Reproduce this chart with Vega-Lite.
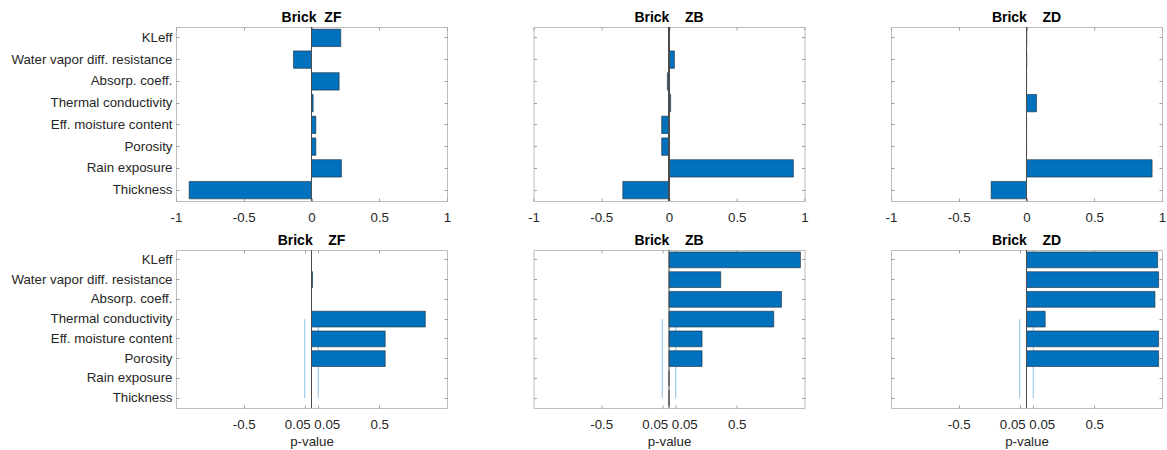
{
  "$schema": "https://vega.github.io/schema/vega-lite/v6.json",
  "padding": {"left": 10, "top": 10, "right": 2, "bottom": 2},
  "background": "white",
  "datasets": {
    "corr": [
      {"brick": "ZF", "param": "KLeff", "r": 0.216},
      {"brick": "ZF", "param": "Water vapor diff. resistance", "r": -0.133},
      {"brick": "ZF", "param": "Absorp. coeff.", "r": 0.204},
      {"brick": "ZF", "param": "Thermal conductivity", "r": 0.012},
      {"brick": "ZF", "param": "Eff. moisture content", "r": 0.032},
      {"brick": "ZF", "param": "Porosity", "r": 0.032},
      {"brick": "ZF", "param": "Rain exposure", "r": 0.221},
      {"brick": "ZF", "param": "Thickness", "r": -0.903},
      {"brick": "ZB", "param": "KLeff", "r": 0.002},
      {"brick": "ZB", "param": "Water vapor diff. resistance", "r": 0.04},
      {"brick": "ZB", "param": "Absorp. coeff.", "r": -0.012},
      {"brick": "ZB", "param": "Thermal conductivity", "r": 0.012},
      {"brick": "ZB", "param": "Eff. moisture content", "r": -0.054},
      {"brick": "ZB", "param": "Porosity", "r": -0.054},
      {"brick": "ZB", "param": "Rain exposure", "r": 0.918},
      {"brick": "ZB", "param": "Thickness", "r": -0.341},
      {"brick": "ZD", "param": "KLeff", "r": 0.002},
      {"brick": "ZD", "param": "Water vapor diff. resistance", "r": 0.002},
      {"brick": "ZD", "param": "Absorp. coeff.", "r": 0.001},
      {"brick": "ZD", "param": "Thermal conductivity", "r": 0.074},
      {"brick": "ZD", "param": "Eff. moisture content", "r": 0.001},
      {"brick": "ZD", "param": "Porosity", "r": 0.001},
      {"brick": "ZD", "param": "Rain exposure", "r": 0.927},
      {"brick": "ZD", "param": "Thickness", "r": -0.261}
    ],
    "pval": [
      {"brick": "ZF", "param": "KLeff", "p": 0},
      {"brick": "ZF", "param": "Water vapor diff. resistance", "p": 0.008},
      {"brick": "ZF", "param": "Absorp. coeff.", "p": 0},
      {"brick": "ZF", "param": "Thermal conductivity", "p": 0.84},
      {"brick": "ZF", "param": "Eff. moisture content", "p": 0.544},
      {"brick": "ZF", "param": "Porosity", "p": 0.544},
      {"brick": "ZF", "param": "Rain exposure", "p": 0},
      {"brick": "ZF", "param": "Thickness", "p": 0},
      {"brick": "ZB", "param": "KLeff", "p": 0.97},
      {"brick": "ZB", "param": "Water vapor diff. resistance", "p": 0.382},
      {"brick": "ZB", "param": "Absorp. coeff.", "p": 0.83},
      {"brick": "ZB", "param": "Thermal conductivity", "p": 0.773},
      {"brick": "ZB", "param": "Eff. moisture content", "p": 0.244},
      {"brick": "ZB", "param": "Porosity", "p": 0.244},
      {"brick": "ZB", "param": "Rain exposure", "p": 0},
      {"brick": "ZB", "param": "Thickness", "p": 0},
      {"brick": "ZD", "param": "KLeff", "p": 0.968},
      {"brick": "ZD", "param": "Water vapor diff. resistance", "p": 0.975},
      {"brick": "ZD", "param": "Absorp. coeff.", "p": 0.948},
      {"brick": "ZD", "param": "Thermal conductivity", "p": 0.138},
      {"brick": "ZD", "param": "Eff. moisture content", "p": 0.975},
      {"brick": "ZD", "param": "Porosity", "p": 0.975},
      {"brick": "ZD", "param": "Rain exposure", "p": 0},
      {"brick": "ZD", "param": "Thickness", "p": 0}
    ],
    "sig": [
      {"lim": -0.05, "from": "Thermal conductivity", "to": "Thickness"},
      {"lim": 0.05, "from": "Thermal conductivity", "to": "Thickness"}
    ]
  },
  "vconcat": [
    {
      "bounds": "flush",
      "spacing": 86.5,
      "hconcat": [
        {
          "width": 271, "height": 174,
          "title": "Brick\u00a0\u00a0ZF",
          "data": {"name": "corr"},
          "transform": [{"filter": "datum.brick == 'ZF'"}],
          "layer": [
            {
              "mark": {"type": "bar", "color": "#0072BD", "stroke": "#1f2a36", "strokeWidth": 0.6},
              "encoding": {
                "y": {"field": "param", "type": "nominal", "scale": {"domain": ["KLeff", "Water vapor diff. resistance", "Absorp. coeff.", "Thermal conductivity", "Eff. moisture content", "Porosity", "Rain exposure", "Thickness"], "paddingInner": 0.2, "paddingOuter": 0.1}, "axis": {"title": null, "orient": "left"}},
                "x": {"field": "r", "type": "quantitative", "scale": {"domain": [-1, 1], "nice": false}, "axis": {"title": null, "orient": "bottom", "values": [-1, -0.5, 0, 0.5, 1], "labelExpr": "'' + datum.value"}}
              }
            },
            {
              "mark": {"type": "point", "opacity": 0},
              "encoding": {
                "y": {"field": "param", "type": "nominal", "axis": {"title": null, "orient": "right", "labels": false, "minExtent": 0}},
                "x": {"field": "r", "type": "quantitative", "axis": {"title": null, "orient": "top", "labels": false, "minExtent": 0, "values": [-1, -0.5, 0, 0.5, 1]}}
              }
            },
            {
              "mark": {"type": "rule", "color": "#4d4d4d", "strokeWidth": 1},
              "encoding": {"x": {"datum": 0, "type": "quantitative", "axis": null}}
            }
          ]
        },
        {
          "width": 271, "height": 174,
          "title": "Brick\u00a0\u00a0\u00a0\u00a0ZB",
          "data": {"name": "corr"},
          "transform": [{"filter": "datum.brick == 'ZB'"}],
          "layer": [
            {
              "mark": {"type": "bar", "color": "#0072BD", "stroke": "#1f2a36", "strokeWidth": 0.6},
              "encoding": {
                "y": {"field": "param", "type": "nominal", "scale": {"domain": ["KLeff", "Water vapor diff. resistance", "Absorp. coeff.", "Thermal conductivity", "Eff. moisture content", "Porosity", "Rain exposure", "Thickness"], "paddingInner": 0.2, "paddingOuter": 0.1}, "axis": {"title": null, "orient": "left", "labels": false, "minExtent": 0}},
                "x": {"field": "r", "type": "quantitative", "scale": {"domain": [-1, 1], "nice": false}, "axis": {"title": null, "orient": "bottom", "values": [-1, -0.5, 0, 0.5, 1], "labelExpr": "'' + datum.value"}}
              }
            },
            {
              "mark": {"type": "point", "opacity": 0},
              "encoding": {
                "y": {"field": "param", "type": "nominal", "axis": {"title": null, "orient": "right", "labels": false, "minExtent": 0}},
                "x": {"field": "r", "type": "quantitative", "axis": {"title": null, "orient": "top", "labels": false, "minExtent": 0, "values": [-1, -0.5, 0, 0.5, 1]}}
              }
            },
            {
              "mark": {"type": "rule", "color": "#4d4d4d", "strokeWidth": 1},
              "encoding": {"x": {"datum": 0, "type": "quantitative", "axis": null}}
            }
          ]
        },
        {
          "width": 271, "height": 174,
          "title": "Brick\u00a0\u00a0\u00a0\u00a0ZD",
          "data": {"name": "corr"},
          "transform": [{"filter": "datum.brick == 'ZD'"}],
          "layer": [
            {
              "mark": {"type": "bar", "color": "#0072BD", "stroke": "#1f2a36", "strokeWidth": 0.6},
              "encoding": {
                "y": {"field": "param", "type": "nominal", "scale": {"domain": ["KLeff", "Water vapor diff. resistance", "Absorp. coeff.", "Thermal conductivity", "Eff. moisture content", "Porosity", "Rain exposure", "Thickness"], "paddingInner": 0.2, "paddingOuter": 0.1}, "axis": {"title": null, "orient": "left", "labels": false, "minExtent": 0}},
                "x": {"field": "r", "type": "quantitative", "scale": {"domain": [-1, 1], "nice": false}, "axis": {"title": null, "orient": "bottom", "values": [-1, -0.5, 0, 0.5, 1], "labelExpr": "'' + datum.value"}}
              }
            },
            {
              "mark": {"type": "point", "opacity": 0},
              "encoding": {
                "y": {"field": "param", "type": "nominal", "axis": {"title": null, "orient": "right", "labels": false, "minExtent": 0}},
                "x": {"field": "r", "type": "quantitative", "axis": {"title": null, "orient": "top", "labels": false, "minExtent": 0, "values": [-1, -0.5, 0, 0.5, 1]}}
              }
            },
            {
              "mark": {"type": "rule", "color": "#4d4d4d", "strokeWidth": 1},
              "encoding": {"x": {"datum": 0, "type": "quantitative", "axis": null}}
            }
          ]
        }
      ]
    },
    {
      "bounds": "flush",
      "spacing": 86.5,
      "hconcat": [
        {
          "width": 271, "height": 158,
          "title": "Brick\u00a0\u00a0\u00a0\u00a0ZF",
          "layer": [
            {
              "data": {"name": "sig"},
              "mark": {"type": "rule", "color": "#8cc4ec", "strokeWidth": 1},
              "encoding": {
                "x": {"field": "lim", "type": "quantitative", "axis": null},
                "y": {"field": "from", "type": "nominal", "bandPosition": 0.5, "axis": null},
                "y2": {"field": "to", "bandPosition": 0.5}
              }
            },
            {
              "data": {"name": "pval"},
              "transform": [{"filter": "datum.brick == 'ZF'"}],
              "mark": {"type": "bar", "color": "#0072BD", "stroke": "#1f2a36", "strokeWidth": 0.6},
              "encoding": {
                "y": {"field": "param", "type": "nominal", "scale": {"domain": ["KLeff", "Water vapor diff. resistance", "Absorp. coeff.", "Thermal conductivity", "Eff. moisture content", "Porosity", "Rain exposure", "Thickness"], "paddingInner": 0.2, "paddingOuter": 0.1}, "axis": {"title": null, "orient": "left"}},
                "x": {"field": "p", "type": "quantitative", "scale": {"domain": [-1, 1], "nice": false}, "axis": {"title": "p-value", "orient": "bottom", "values": [-0.5, -0.05, 0.05, 0.5], "labelExpr": "abs(datum.value) == 0.05 ? '0.05' : '' + datum.value", "labelOffset": {"expr": "datum.value == -0.05 ? -7.5 : datum.value == 0.05 ? 8.5 : 0"}}}
              }
            },
            {
              "data": {"name": "pval"},
              "transform": [{"filter": "datum.brick == 'ZF'"}],
              "mark": {"type": "point", "opacity": 0},
              "encoding": {
                "y": {"field": "param", "type": "nominal", "axis": {"title": null, "orient": "right", "labels": false, "minExtent": 0}},
                "x": {"field": "p", "type": "quantitative", "axis": {"title": null, "orient": "top", "labels": false, "minExtent": 0, "values": [-0.5, -0.05, 0.05, 0.5]}}
              }
            },
            {
              "data": {"values": [{}]},
              "mark": {"type": "rule", "color": "#4d4d4d", "strokeWidth": 1},
              "encoding": {"x": {"datum": 0, "type": "quantitative", "axis": null}}
            }
          ]
        },
        {
          "width": 271, "height": 158,
          "title": "Brick\u00a0\u00a0\u00a0\u00a0ZB",
          "layer": [
            {
              "data": {"name": "sig"},
              "mark": {"type": "rule", "color": "#8cc4ec", "strokeWidth": 1},
              "encoding": {
                "x": {"field": "lim", "type": "quantitative", "axis": null},
                "y": {"field": "from", "type": "nominal", "bandPosition": 0.5, "axis": null},
                "y2": {"field": "to", "bandPosition": 0.5}
              }
            },
            {
              "data": {"name": "pval"},
              "transform": [{"filter": "datum.brick == 'ZB'"}],
              "mark": {"type": "bar", "color": "#0072BD", "stroke": "#1f2a36", "strokeWidth": 0.6},
              "encoding": {
                "y": {"field": "param", "type": "nominal", "scale": {"domain": ["KLeff", "Water vapor diff. resistance", "Absorp. coeff.", "Thermal conductivity", "Eff. moisture content", "Porosity", "Rain exposure", "Thickness"], "paddingInner": 0.2, "paddingOuter": 0.1}, "axis": {"title": null, "orient": "left", "labels": false, "minExtent": 0}},
                "x": {"field": "p", "type": "quantitative", "scale": {"domain": [-1, 1], "nice": false}, "axis": {"title": "p-value", "orient": "bottom", "values": [-0.5, -0.05, 0.05, 0.5], "labelExpr": "abs(datum.value) == 0.05 ? '0.05' : '' + datum.value", "labelOffset": {"expr": "datum.value == -0.05 ? -7.5 : datum.value == 0.05 ? 8.5 : 0"}}}
              }
            },
            {
              "data": {"name": "pval"},
              "transform": [{"filter": "datum.brick == 'ZB'"}],
              "mark": {"type": "point", "opacity": 0},
              "encoding": {
                "y": {"field": "param", "type": "nominal", "axis": {"title": null, "orient": "right", "labels": false, "minExtent": 0}},
                "x": {"field": "p", "type": "quantitative", "axis": {"title": null, "orient": "top", "labels": false, "minExtent": 0, "values": [-0.5, -0.05, 0.05, 0.5]}}
              }
            },
            {
              "data": {"values": [{}]},
              "mark": {"type": "rule", "color": "#4d4d4d", "strokeWidth": 1},
              "encoding": {"x": {"datum": 0, "type": "quantitative", "axis": null}}
            }
          ]
        },
        {
          "width": 271, "height": 158,
          "title": "Brick\u00a0\u00a0\u00a0\u00a0ZD",
          "layer": [
            {
              "data": {"name": "sig"},
              "mark": {"type": "rule", "color": "#8cc4ec", "strokeWidth": 1},
              "encoding": {
                "x": {"field": "lim", "type": "quantitative", "axis": null},
                "y": {"field": "from", "type": "nominal", "bandPosition": 0.5, "axis": null},
                "y2": {"field": "to", "bandPosition": 0.5}
              }
            },
            {
              "data": {"name": "pval"},
              "transform": [{"filter": "datum.brick == 'ZD'"}],
              "mark": {"type": "bar", "color": "#0072BD", "stroke": "#1f2a36", "strokeWidth": 0.6},
              "encoding": {
                "y": {"field": "param", "type": "nominal", "scale": {"domain": ["KLeff", "Water vapor diff. resistance", "Absorp. coeff.", "Thermal conductivity", "Eff. moisture content", "Porosity", "Rain exposure", "Thickness"], "paddingInner": 0.2, "paddingOuter": 0.1}, "axis": {"title": null, "orient": "left", "labels": false, "minExtent": 0}},
                "x": {"field": "p", "type": "quantitative", "scale": {"domain": [-1, 1], "nice": false}, "axis": {"title": "p-value", "orient": "bottom", "values": [-0.5, -0.05, 0.05, 0.5], "labelExpr": "abs(datum.value) == 0.05 ? '0.05' : '' + datum.value", "labelOffset": {"expr": "datum.value == -0.05 ? -7.5 : datum.value == 0.05 ? 8.5 : 0"}}}
              }
            },
            {
              "data": {"name": "pval"},
              "transform": [{"filter": "datum.brick == 'ZD'"}],
              "mark": {"type": "point", "opacity": 0},
              "encoding": {
                "y": {"field": "param", "type": "nominal", "axis": {"title": null, "orient": "right", "labels": false, "minExtent": 0}},
                "x": {"field": "p", "type": "quantitative", "axis": {"title": null, "orient": "top", "labels": false, "minExtent": 0, "values": [-0.5, -0.05, 0.05, 0.5]}}
              }
            },
            {
              "data": {"values": [{}]},
              "mark": {"type": "rule", "color": "#4d4d4d", "strokeWidth": 1},
              "encoding": {"x": {"datum": 0, "type": "quantitative", "axis": null}}
            }
          ]
        }
      ]
    }
  ],
  "spacing": 9,
  "config": {
    "font": "Liberation Sans",
    "view": {"stroke": "#bcbcbc", "strokeWidth": 1},
    "axis": {
      "domain": false,
      "grid": false,
      "labelFont": "Liberation Sans",
      "labelFontSize": 13.3,
      "labelColor": "#262626",
      "labelOverlap": false,
      "labelBound": false,
      "labelFlush": false,
      "tickColor": "#a0a0a0",
      "tickSize": -3,
      "labelPadding": 12,
      "titleFont": "Liberation Sans",
      "titleFontSize": 13.3,
      "titleFontWeight": "normal",
      "titleColor": "#262626",
      "titlePadding": 4
    },
    "axisY": {"labelPadding": 7},
    "title": {"fontSize": 14, "fontWeight": "bold", "color": "#000000", "font": "Liberation Sans", "frame": "group", "offset": 2}
  }
}
